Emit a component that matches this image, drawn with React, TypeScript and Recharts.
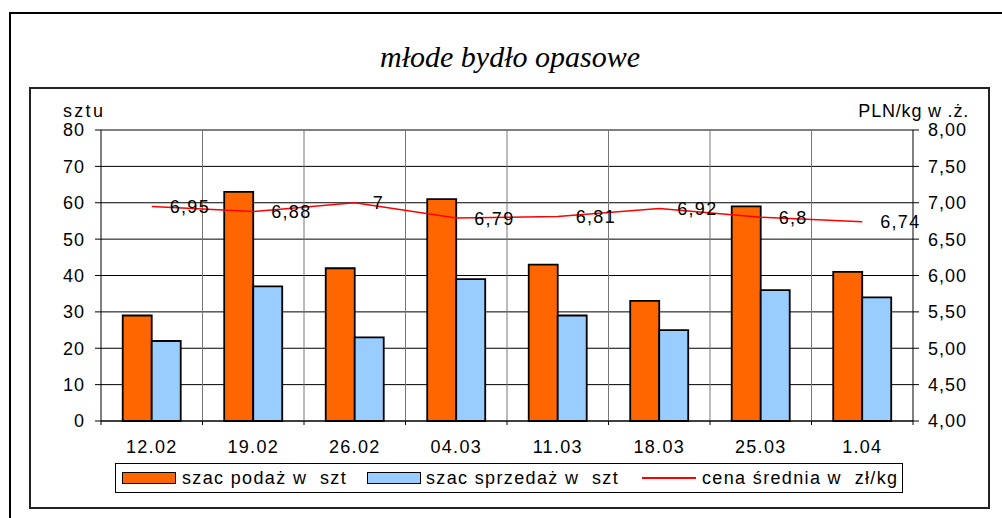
import { Bar, CartesianGrid, ComposedChart, LabelList, Legend, Line, XAxis, YAxis } from "recharts";

const weeks = ["12.02", "19.02", "26.02", "04.03", "11.03", "18.03", "25.03", "1.04"];
const supply = [29, 63, 42, 61, 43, 33, 59, 41];
const sales = [22, 37, 23, 39, 29, 25, 36, 34];
const price = [6.95, 6.88, 7, 6.79, 6.81, 6.92, 6.8, 6.74];
const countTicks = [0, 10, 20, 30, 40, 50, 60, 70, 80];
const priceTicks = [4, 4.5, 5, 5.5, 6, 6.5, 7, 7.5, 8];

const data = weeks.map((week, i) => ({ week, supply: supply[i], sales: sales[i], price: price[i] }));

const FONT = '"Liberation Sans", Arial, sans-serif';
const ORANGE = "#ff6600";
const BLUE = "#99ccff";
const RED = "#ff0000";

// polish decimal comma
const plValue = (v: number) => String(v).replace(".", ",");
const plTick = (v: number) => v.toFixed(2).replace(".", ",");

const WeekTick = (props: any) => {
    const { x, y, payload, index } = props;
    const half = payload?.offset ?? 50.75;
    const last = index === weeks.length - 1;
    return (
        <g>
            <line x1={x - half} x2={x - half} y1={y - 4} y2={y} stroke="#000" />
            {last && <line x1={x + half} x2={x + half} y1={y - 4} y2={y} stroke="#000" />}
            <text x={x} y={y + 28} textAnchor="middle" fill="#000" fontSize={18} fontFamily={FONT} letterSpacing={1.3}>
                {payload.value}
            </text>
        </g>
    );
};

const PriceLabel = (props: any) => {
    const { x, y, value } = props;
    return (
        <text x={x + 18} y={y} dy="0.36em" fill="#000" fontSize={18} fontFamily={FONT} letterSpacing={1.3}>
            {plValue(value)}
        </text>
    );
};

const legendText = { position: "absolute" as const, top: 4, fontSize: 18, fontFamily: FONT, letterSpacing: 1.35, lineHeight: "20px", whiteSpace: "pre" as const };

const LegendBox = () => (
    <div style={{ position: "relative", width: 788, height: 30, border: "1px solid #000", boxSizing: "border-box", background: "#fff" }}>
        <div style={{ position: "absolute", left: 6, top: 8, width: 54, height: 12, background: ORANGE, border: "1.5px solid #000", boxSizing: "border-box" }} />
        <span style={{ ...legendText, left: 66 }}>szac podaż w  szt</span>
        <div style={{ position: "absolute", left: 251, top: 8, width: 54, height: 12, background: BLUE, border: "1.5px solid #000", boxSizing: "border-box" }} />
        <span style={{ ...legendText, left: 310 }}>szac sprzedaż w  szt</span>
        <div style={{ position: "absolute", left: 526, top: 13, width: 54, height: 1.5, background: RED }} />
        <span style={{ ...legendText, left: 586 }}>cena średnia w  zł/kg</span>
    </div>
);

export default function App() {
    return (
        <div style={{ position: "absolute", left: 0, top: 0, width: 1002, height: 518, overflow: "hidden", background: "#fff" }}>
            <div style={{ position: "absolute", left: 9, top: 12, width: 1100, height: 600, border: "2px solid #000", boxSizing: "border-box" }} />
            <div style={{ position: "absolute", left: 29, top: 87, width: 961, height: 422, border: "2px solid #222", boxSizing: "border-box" }} />
            <div
                style={{
                    position: "absolute",
                    left: 30,
                    top: 42,
                    width: 960,
                    textAlign: "center",
                    fontFamily: '"Liberation Serif", "Times New Roman", serif',
                    fontStyle: "italic",
                    fontSize: 30,
                    lineHeight: "30px",
                }}
            >
                młode bydło opasowe
            </div>
            <div style={{ position: "absolute", left: 0, top: 0 }}>
                <ComposedChart
                    width={1002}
                    height={518}
                    data={data}
                    margin={{ top: 130, right: 0, bottom: 67, left: 0 }}
                    barCategoryGap="21.4%"
                    barGap={0}
                >
                    <CartesianGrid yAxisId="count" vertical={false} stroke="#000" />
                    <CartesianGrid
                        yAxisId="count"
                        horizontal={false}
                        stroke="#777"
                        verticalCoordinatesGenerator={({ offset }: any) =>
                            weeks.slice(1).map((_, i) => offset.left + (offset.width * (i + 1)) / weeks.length)
                        }
                    />
                    <XAxis
                        dataKey="week"
                        height={30}
                        tickLine={false}
                        tickSize={4}
                        tickMargin={0}
                        axisLine={{ stroke: "#000" }}
                        tick={<WeekTick />}
                        interval={0}
                    />
                    <YAxis
                        yAxisId="count"
                        orientation="left"
                        width={101}
                        domain={[0, 80]}
                        ticks={countTicks}
                        interval={0}
                        tickSize={6}
                        tickMargin={10}
                        axisLine={{ stroke: "#000" }}
                        tickLine={{ stroke: "#000" }}
                        tick={{ fill: "#000", fontSize: 18, fontFamily: FONT, letterSpacing: 1 }}
                        label={({ viewBox }: any) => (
                            <text x={(viewBox?.x ?? 0) + 63} y={(viewBox?.y ?? 130) - 13} fill="#000" fontSize={18} fontFamily={FONT} letterSpacing={2.3}>
                                sztu
                            </text>
                        )}
                    />
                    <YAxis
                        yAxisId="price"
                        orientation="right"
                        width={89}
                        domain={[4, 8]}
                        ticks={priceTicks}
                        interval={0}
                        tickSize={6}
                        tickMargin={9}
                        tickFormatter={plTick}
                        axisLine={{ stroke: "#000" }}
                        tickLine={{ stroke: "#000" }}
                        tick={{ fill: "#000", fontSize: 18, fontFamily: FONT, letterSpacing: 1 }}
                        label={({ viewBox }: any) => (
                            <text x={(viewBox?.x ?? 913) + 56} y={(viewBox?.y ?? 130) - 13} textAnchor="end" fill="#000" fontSize={18} fontFamily={FONT} letterSpacing={0.8}>
                                PLN/kg w .ż.
                            </text>
                        )}
                    />
                    <Bar yAxisId="count" dataKey="supply" fill={ORANGE} stroke="#000" strokeWidth={1.8} isAnimationActive={false} />
                    <Bar yAxisId="count" dataKey="sales" fill={BLUE} stroke="#000" strokeWidth={1.8} isAnimationActive={false} />
                    <Line yAxisId="price" dataKey="price" type="linear" stroke={RED} strokeWidth={1.5} dot={false} isAnimationActive={false}>
                        <LabelList dataKey="price" content={<PriceLabel />} />
                    </Line>
                    <Legend
                        layout="horizontal"
                        verticalAlign="middle"
                        align="center"
                        width={788}
                        height={30}
                        wrapperStyle={{ left: 115, top: 463, width: 788, height: 30 }}
                        content={() => <LegendBox />}
                    />
                </ComposedChart>
            </div>
        </div>
    );
}
